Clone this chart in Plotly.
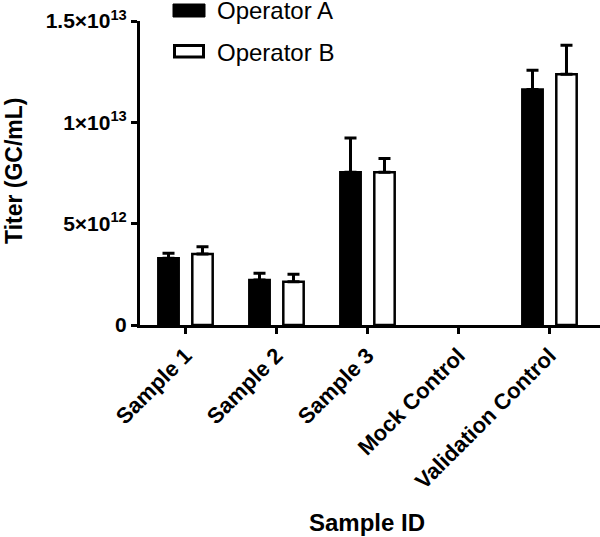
import plotly.graph_objects as go

categories = ["Sample 1", "Sample 2", "Sample 3", "Mock Control", "Validation Control"]
operator_a = [3.29e12, 2.22e12, 7.54e12, 0, 11.62e12]
operator_a_err = [0.25e12, 0.33e12, 1.69e12, 0, 0.95e12]
operator_b = [3.50e12, 2.14e12, 7.54e12, 0, 12.37e12]
operator_b_err = [0.36e12, 0.36e12, 0.68e12, 0, 1.43e12]

y_tickvals = [0, 5e12, 1e13, 1.5e13]
y_ticktext = ["0", "5×10<sup>12</sup>", "1×10<sup>13</sup>", "1.5×10<sup>13</sup>"]

FONT = "Liberation Sans, Arial, sans-serif"
W, H = 600, 537
L, R, T, B = 140, 0, 21, 212
PW, PH = W - L - R, H - T - B


def px(x):
    return (x - L) / PW


def py(y):
    return (H - B - y) / PH


def nonzero(vals):
    # a zero-height bar draws nothing (no outline, no error cap)
    return [v if v else None for v in vals]


def err_for(vals, errs):
    return [e if v else None for v, e in zip(vals, errs)]


fig = go.Figure()
fig.add_trace(go.Bar(
    name="Operator A", x=categories, y=nonzero(operator_a),
    marker=dict(color="black", line=dict(color="black", width=2.5)),
    error_y=dict(type="data", array=err_for(operator_a, operator_a_err),
                 arrayminus=[0] * 5, symmetric=False,
                 color="black", thickness=3, width=6),
    showlegend=False,
))
fig.add_trace(go.Bar(
    name="Operator B", x=categories, y=nonzero(operator_b),
    marker=dict(color="white", line=dict(color="black", width=2.5)),
    error_y=dict(type="data", array=err_for(operator_b, operator_b_err),
                 arrayminus=[0] * 5, symmetric=False,
                 color="black", thickness=3, width=6),
    showlegend=False,
))

# legend drawn by hand (swatches + labels)
fig.add_shape(type="rect", xref="paper", yref="paper",
              x0=px(173), x1=px(205), y0=py(17), y1=py(4),
              fillcolor="black", line=dict(color="black", width=1))
fig.add_shape(type="rect", xref="paper", yref="paper",
              x0=px(174.5), x1=px(203.5), y0=py(57), y1=py(45.5),
              fillcolor="white", line=dict(color="black", width=3))
fig.add_annotation(text="Operator A", xref="paper", yref="paper", x=px(215), y=py(11),
                   xanchor="left", yanchor="middle", showarrow=False,
                   font=dict(size=24, family=FONT, color="black"))
fig.add_annotation(text="Operator B", xref="paper", yref="paper", x=px(215), y=py(52),
                   xanchor="left", yanchor="middle", showarrow=False,
                   font=dict(size=24, family=FONT, color="black"))

# axis titles
fig.add_annotation(text="Sample ID", xref="paper", yref="paper", x=px(367), y=py(522),
                   xanchor="center", yanchor="middle", showarrow=False,
                   font=dict(size=24, family=FONT, color="black", weight="bold"))
fig.add_annotation(text="Titer (GC/mL)", xref="paper", yref="paper", x=px(14), y=py(171),
                   xanchor="center", yanchor="middle", showarrow=False, textangle=-90,
                   font=dict(size=23, family=FONT, color="black", weight="bold"))

fig.update_layout(
    width=W, height=H,
    margin=dict(l=L, r=R, t=T, b=B),
    paper_bgcolor="white", plot_bgcolor="white",
    barmode="group", bargap=0.253, bargroupgap=0.40,
    font=dict(family=FONT, color="black"),
    showlegend=False,
    xaxis=dict(
        range=[-0.5, 4.555], showline=True, linecolor="black", linewidth=3,
        ticks="outside", ticklen=6, tickwidth=3, tickcolor="black",
        tickangle=-45, tickfont=dict(size=22, family=FONT, weight="bold"),
        showgrid=False, zeroline=False, automargin=False,
    ),
    yaxis=dict(
        range=[0, 1.5e13], showline=True, linecolor="black", linewidth=3,
        ticks="outside", ticklen=6, tickwidth=3, tickcolor="black",
        tickvals=y_tickvals, ticktext=y_ticktext,
        tickfont=dict(size=21, family=FONT, weight="bold"),
        showgrid=False, zeroline=False, automargin=False,
    ),
)

fig.write_html("out.html", config={"displayModeBar": False},
               post_script="document.body.style.margin='0';")
